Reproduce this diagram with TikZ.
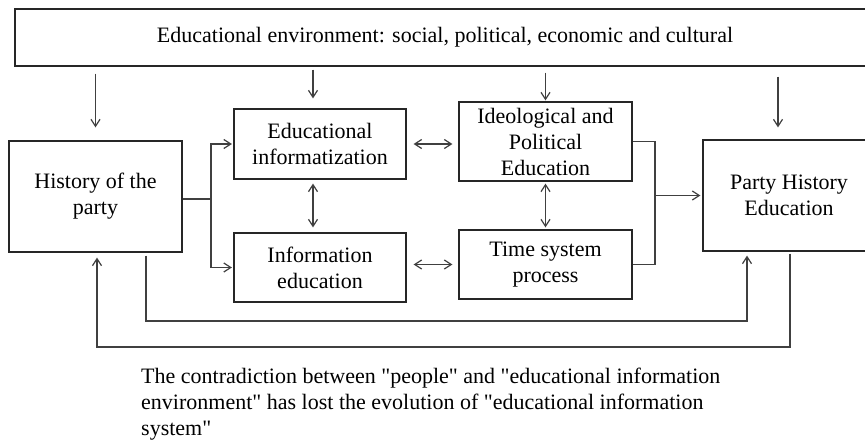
\documentclass[tikz,border=0pt]{standalone}
\usepackage{fontspec}
\setmainfont{Liberation Serif}
\usetikzlibrary{arrows.meta,calc}
\begin{document}
\begin{tikzpicture}[x=1pt,y=-1pt,
  box/.style={draw=black!85, line width=1.2pt, align=center, inner sep=0pt, font=\fontsize{22}{26}\selectfont},
  arr/.style={draw=black!75, line width=1.2pt, -{Straight Barb[length=7pt,width=9pt]}},
  darr/.style={draw=black!75, line width=1.2pt, {Straight Barb[length=7pt,width=9pt]}-{Straight Barb[length=7pt,width=9pt]}},
  ln/.style={draw=black!75, line width=1.2pt},
  captxt/.style={align=left, inner sep=0pt, font=\fontsize{22}{26}\selectfont}]
\useasboundingbox[fill=white] (0,0) rectangle (865,442);
\node[box, minimum width=860pt, minimum height=57pt] (top) at (445,37.5) {Educational environment: social, political, economic and cultural};
\node[box, minimum width=173pt, minimum height=111pt] (hist) at (95.5,196.5) {History of the\\party};
\node[box, minimum width=172pt, minimum height=70pt] (eduinf) at (320,144) {Educational\\informatization};
\node[box, minimum width=172pt, minimum height=69pt] (infoedu) at (320,267.5) {Information\\education};
\node[box, minimum width=173pt, minimum height=79pt] (ideo) at (545.5,141.5) {Ideological and\\Political\\Education};
\node[box, minimum width=173pt, minimum height=69pt] (time) at (545.5,264.5) {Time system\\process};
\node[box, minimum width=172pt, minimum height=111pt] (party) at (789,195.5) {Party History\\Education};
% arrows from the top box
\draw[arr, shorten <=7pt, shorten >=13pt] (top.south -| hist.north) -- (hist.north);
\draw[arr, shorten <=3pt, shorten >=10pt] ([xshift=-7pt]top.south -| eduinf.north) -- ([xshift=-7pt]eduinf.north);
\draw[arr, shorten <=6pt, shorten >=1pt] (top.south -| ideo.north) -- (ideo.north);
\draw[arr, shorten <=10pt, shorten >=12pt] ([xshift=-11pt]top.south -| party.north) -- ([xshift=-11pt]party.north);
% double arrows
\draw[darr, shorten <=4pt, shorten >=5pt] ([xshift=-7pt]eduinf.south) -- ([xshift=-7pt]infoedu.north);
\draw[darr, shorten <=2pt, shorten >=2pt] (ideo.south) -- (time.north);
\draw[darr, shorten <=7pt, shorten >=6pt] (eduinf.east) -- (eduinf.east -| ideo.west);
\draw[darr, shorten <=7pt, shorten >=6pt] (infoedu.east |- time.west) -- (time.west);
% branch from history
\coordinate (j1) at (211,199);
\draw[ln] (hist.east |- j1) -- (j1);
\draw[arr, shorten >=1.5pt] (j1) |- (eduinf.west);
\draw[arr, shorten >=1.5pt] (j1) |- (infoedu.west);
% bracket to party
\coordinate (j2) at (655,195.5);
\draw[ln] (ideo.east) -| (j2 |- time.east) -- (time.east);
\draw[arr, shorten >=2pt] (j2) -- (j2 -| party.west);
% loops
\coordinate (l1) at (146,321);
\draw[arr, shorten <=3pt, shorten >=4pt] (hist.south -| l1) -- (l1) -| ([xshift=-42pt]party.south);
\coordinate (l2) at (790,347);
\draw[arr, shorten <=2pt, shorten >=5pt] (party.south -| l2) -- (l2) -| ([xshift=1.5pt]hist.south);
% caption
\node[captxt, anchor=north west] (cap) at (141,368) {The contradiction between \textquotedbl people\textquotedbl{} and \textquotedbl educational information\\environment\textquotedbl{} has lost the evolution of \textquotedbl educational information\\system\textquotedbl};
\end{tikzpicture}
\end{document}
